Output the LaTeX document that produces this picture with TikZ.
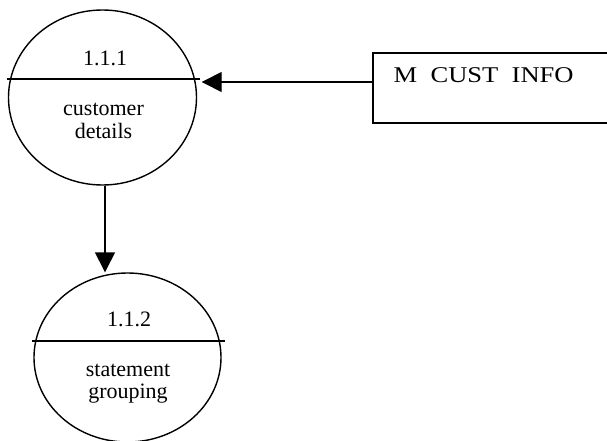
\documentclass[tikz,border=0pt]{standalone}
\usepackage{fontspec}
\setmainfont{Liberation Serif}
\usetikzlibrary{arrows.meta,shapes.geometric}
\begin{document}
\begin{tikzpicture}[x=1pt,y=-1pt,
  line width=1.4pt,
  proc/.style={ellipse,draw,inner sep=0pt},
  lbl/.style={anchor=base,inner sep=0pt,font=\fontsize{22}{23}\selectfont},
  flow/.style={-{Triangle[length=20pt,width=20pt]}}]
\useasboundingbox (0,0) rectangle (607,441);

% process 1.1.1
\node[proc,minimum width=188pt,minimum height=175pt] (p1) at (102.5,97.5) {};
\draw (7,79) -- (200,79);
\node[lbl] (p1id) at (105,66) {1.1.1};
\node[lbl] (p1a) at (103.5,116) {customer};
\node[lbl] (p1b) at (103.5,138) {details};

% process 1.1.2
\node[proc,minimum width=187pt,minimum height=169pt] (p2) at (127.5,357.5) {};
\draw (32,341) -- (225,341);
\node[lbl] (p2id) at (129,326) {1.1.2};
\node[lbl] (p2a) at (128,376) {statement};
\node[lbl] (p2b) at (128,398) {grouping};

% data store M CUST INFO (open on the right)
\draw (610,53) -- (373,53) -- (373,123) -- (610,123);
\node[anchor=base west,inner sep=0pt,font=\fontsize{22.5}{24}\selectfont] (store) at (393,83)
  {\scalebox{1.18}[1]{M\ \ CUST\ \ INFO}};
\coordinate (sIn) at (373,82);

% data flows
\draw[flow] (sIn) -- ([xshift=4.5pt]sIn -| p1.east);
\draw[flow] ([xshift=2.5pt]p1.south) -- ([xshift=2.5pt]p1.south |- p2.north);
\end{tikzpicture}
\end{document}
